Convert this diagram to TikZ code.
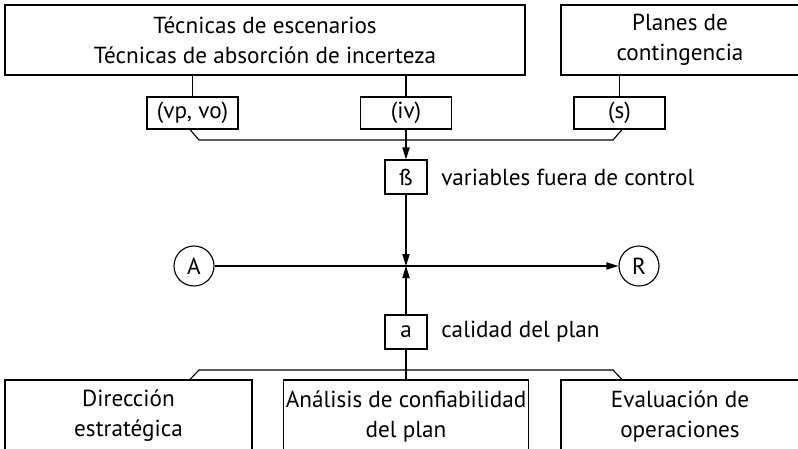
\documentclass[tikz,border=0pt]{standalone}
\usepackage{fontspec}
\setmainfont{PT Sans}
\usetikzlibrary{arrows.meta}

\begin{document}
\begin{tikzpicture}[
	box/.style={draw,thick,align=center,inner sep=0pt,font=\fontsize{16.5}{21.3}\selectfont},
	tag/.style={box,minimum width=2.275cm,minimum height=0.8cm},
	var/.style={box,minimum width=1.05cm,minimum height=0.85cm},
	txt/.style={anchor=west,inner sep=0pt,font=\fontsize{16.5}{21.3}\selectfont},
	ends/.style={draw,thick,circle,minimum size=1cm,inner sep=0pt,font=\fontsize{16.5}{21.3}\selectfont},
	arr/.style={thick,-{Triangle[length=0.3cm,width=0.18cm]}},
	line/.style={thick}]
	\useasboundingbox (0,0) rectangle (19.95,-11.2);
	\node[box,minimum width=13cm,minimum height=1.75cm] (tec) at (6.625,-1.0) {Técnicas de escenarios\\Técnicas de absorción de incerteza};
	\node[box,minimum width=5.95cm,minimum height=1.75cm] (plc) at (17,-1.0) {Planes de\\contingencia};
	\node[tag] (vpvo) at (4.8125,-2.825) {(vp, vo)};
	\node[tag] (iv) at (10.15,-2.825) {(iv)};
	\node[tag] (s) at (15.4875,-2.825) {(s)};
	\node[var] (beta) at (10.15,-4.425) {ß};
	\node[txt] (betatxt) at (11.025,-4.425) {variables fuera de control};
	\node[ends] (A) at (4.85,-6.65) {A};
	\node[ends] (R) at (15.975,-6.65) {R};
	\coordinate (jn) at (10.15,-6.65);
	\node[var] (a) at (10.15,-8.3) {a};
	\node[txt] (atxt) at (11.025,-8.3) {calidad del plan};
	\node[box,minimum width=6.175cm,minimum height=1.8cm] (dir) at (3.2125,-10.4) {Dirección\\estratégica};
	\node[box,minimum width=6.125cm,minimum height=1.8cm] (ana) at (10.15,-10.4) {Análisis de confiabilidad\\del plan};
	\node[box,minimum width=5.95cm,minimum height=1.8cm] (eva) at (17,-10.4) {Evaluación de\\operaciones};
	\coordinate (bus1) at (10.15,-3.5);
	\coordinate (bus2) at (10.15,-9.25);

	\draw[line] (vpvo) -- (vpvo |- tec.south);
	\draw[line] (iv) -- (iv |- tec.south);
	\draw[line] (s) -- (s |- plc.south);
	\draw[line] ([xshift=-0.0625cm]vpvo.south) -- ([xshift=0.1625cm]vpvo.south |- bus1) -- ([xshift=-0.1625cm]s.south |- bus1) -- ([xshift=0.0625cm]s.south);
	\draw[arr] (iv) -- (beta);
	\draw[arr] (beta) -- (jn);
	\draw[arr] (A) -- (R);
	\draw[arr] (a) -- (jn);
	\draw[line] (a) -- (ana);
	\draw[line] ([xshift=-0.0625cm]vpvo.south |- dir.north) -- ([xshift=0.1625cm]vpvo.south |- bus2) -- ([xshift=-0.1625cm]s.south |- bus2) -- ([xshift=0.0625cm]s.south |- eva.north);
\end{tikzpicture}
\end{document}
